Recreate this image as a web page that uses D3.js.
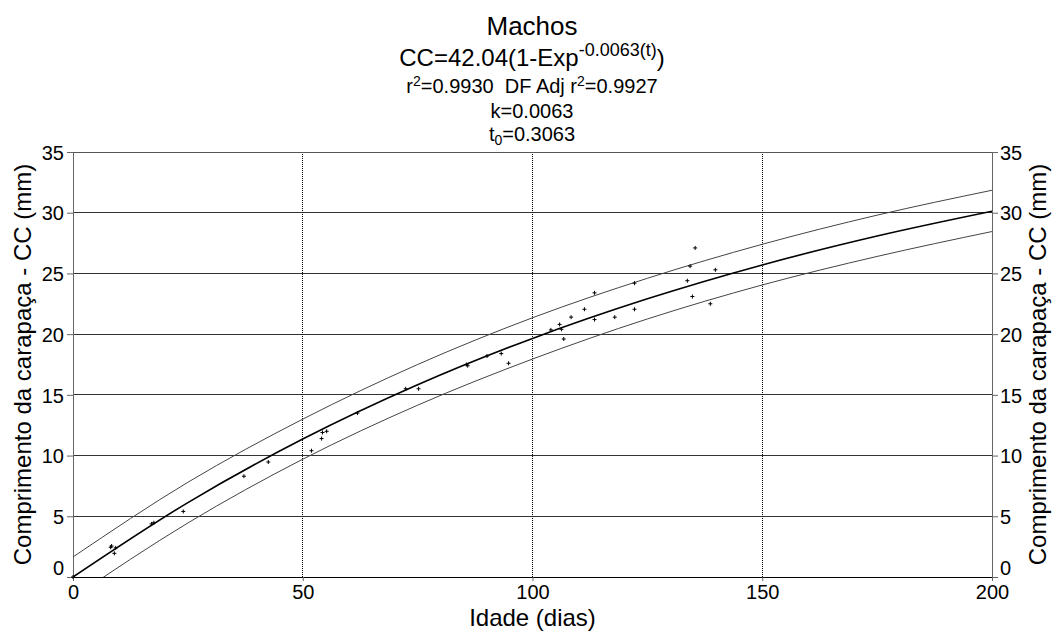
<!DOCTYPE html>
<html>
<head>
<meta charset="utf-8">
<script src="https://cdn.jsdelivr.net/npm/d3@7"></script>
<style>
  body { margin: 0; background: #fff; }
  svg { display: block; font-family: "Liberation Sans", Arial, sans-serif; }
  text { white-space: pre; }
</style>
</head>
<body>
<svg width="1057" height="632"></svg>
<script>
// observed ages (dias) and carapace lengths (mm)
var ages = [0, 8.2, 8.4, 9.3, 9.0, 17.1, 17.6, 24, 37.2, 42.5, 51.9, 54.1, 54.3, 55.2, 61.9,
  72.4, 75.2, 85.6, 85.9, 90.1, 93.2, 94.8, 104, 105.9, 106.3, 106.8, 108.4, 111.3, 113.5,
  113.5, 117.9, 122.2, 122.2, 133.7, 134.3, 135.4, 134.8, 138.7, 139.8]
var lengths = [0, 2.45, 2.55, 2.4, 1.95, 4.37, 4.47, 5.4, 8.3, 9.47, 10.4, 11.4, 11.9, 12.0, 13.5,
  15.5, 15.5, 17.5, 17.4, 18.2, 18.4, 17.6, 20.35, 20.8, 20.4, 19.6, 21.4, 22.05, 23.4,
  21.2, 21.4, 24.2, 22.05, 24.4, 25.6, 27.1, 23.1, 22.5, 25.3]

// fitted curve and prediction band, read at these ages
var curveAges = [0, 25, 50, 75, 100, 125, 150, 175, 200]
var fitted = [0, 6.13, 11.36, 15.83, 19.65, 22.91, 25.70, 28.08, 30.12]
var upper = [1.65, 7.8, 13.0, 17.5, 21.35, 24.6, 27.4, 29.8, 31.85]
var lower = [-1.7, 4.45, 9.7, 14.15, 17.95, 21.25, 24.05, 26.4, 28.45]

var xTicks = [0, 50, 100, 150, 200]
var yTicks = [0, 5, 10, 15, 20, 25, 30, 35]

var svg = d3.select('svg')
var x = d3.scaleLinear().domain([0, 200]).range([73, 992])
var y = d3.scaleLinear().domain([0, 35]).range([577, 152])

svg.append('defs').append('clipPath').attr('id', 'plot')
  .append('rect').attr('x', 73).attr('y', 152).attr('width', 919).attr('height', 425)

// grid
svg.append('g').selectAll('line').data(yTicks.filter(d => d > 0 && d < 35)).enter().append('line')
  .attr('x1', x(0)).attr('x2', x(200))
  .attr('y1', d => y(d)).attr('y2', d => y(d))
  .attr('stroke', '#333').attr('stroke-width', 1).attr('shape-rendering', 'crispEdges')

svg.append('g').selectAll('line').data([50, 100, 150]).enter().append('line')
  .attr('x1', d => x(d)).attr('x2', d => x(d))
  .attr('y1', y(0)).attr('y2', y(35))
  .attr('stroke', '#000').attr('stroke-dasharray', '1,1').attr('shape-rendering', 'crispEdges')

// frame top
svg.append('line').attr('x1', x(0)).attr('x2', x(200)).attr('y1', y(35)).attr('y2', y(35))
  .attr('stroke', '#555').attr('shape-rendering', 'crispEdges')

// axes
var left = svg.append('g').attr('transform', `translate(${x(0)},0)`)
  .call(d3.axisLeft(y).tickValues(yTicks).tickSize(6).tickPadding(3))
var right = svg.append('g').attr('transform', `translate(${x(200)},0)`)
  .call(d3.axisRight(y).tickValues(yTicks).tickSize(6).tickPadding(2))
var bottom = svg.append('g').attr('transform', `translate(0,${y(0)})`)
  .call(d3.axisBottom(x).tickValues(xTicks).tickSize(4).tickPadding(4))

;[left, right, bottom].forEach(g => {
  g.select('.domain').attr('stroke', '#666')
  g.selectAll('.tick line').attr('stroke', '#666')
  g.selectAll('.tick text').attr('font-size', 20).attr('fill', '#000')
    .attr('font-family', '"Liberation Sans", Arial, sans-serif')
})
bottom.select('.domain').attr('stroke', '#000')
left.selectAll('.tick text').attr('dy', d => d === 0 ? '-0.12em' : '0.36em')
right.selectAll('.tick text').attr('dy', d => d === 0 ? '-0.12em' : '0.36em')

// curves
var line = d3.line().x(d => x(d[0])).y(d => y(d[1])).curve(d3.curveMonotoneX)
var plot = svg.append('g').attr('clip-path', 'url(#plot)')
plot.append('path').datum(d3.zip(curveAges, upper)).attr('d', line)
  .attr('fill', 'none').attr('stroke', '#444').attr('stroke-width', 1)
plot.append('path').datum(d3.zip(curveAges, lower)).attr('d', line)
  .attr('fill', 'none').attr('stroke', '#444').attr('stroke-width', 1)
plot.append('path').datum(d3.zip(curveAges, fitted)).attr('d', line)
  .attr('fill', 'none').attr('stroke', '#000').attr('stroke-width', 1.6)

// observations
svg.append('g').selectAll('path').data(d3.zip(ages, lengths)).enter().append('path')
  .attr('transform', d => `translate(${x(d[0])},${y(d[1])})`)
  .attr('d', 'M-2,0H2M0,-2V2')
  .attr('stroke', '#000').attr('stroke-width', 1)

// titles
var cx = 532
svg.append('text').attr('x', cx).attr('y', 35).attr('text-anchor', 'middle')
  .attr('font-size', 26).text('Machos')

var eq = svg.append('text').attr('x', cx).attr('y', 66).attr('text-anchor', 'middle').attr('font-size', 24)
eq.append('tspan').text('CC=42.04(1-Exp')
eq.append('tspan').attr('dy', -10).attr('font-size', 18).text('-0.0063(t)')
eq.append('tspan').attr('dy', 10).text(')')

var r2 = svg.append('text').attr('x', cx).attr('y', 93).attr('text-anchor', 'middle').attr('font-size', 20)
r2.append('tspan').text('r')
r2.append('tspan').attr('dy', -7).attr('font-size', 14).text('2')
r2.append('tspan').attr('dy', 7).text('=0.9930  DF Adj r')
r2.append('tspan').attr('dy', -7).attr('font-size', 14).text('2')
r2.append('tspan').attr('dy', 7).text('=0.9927')

svg.append('text').attr('x', cx).attr('y', 118).attr('text-anchor', 'middle')
  .attr('font-size', 20).text('k=0.0063')

var t0 = svg.append('text').attr('x', cx).attr('y', 141).attr('text-anchor', 'middle').attr('font-size', 20)
t0.append('tspan').text('t')
t0.append('tspan').attr('dy', 4).attr('font-size', 14).text('0')
t0.append('tspan').attr('dy', -4).text('=0.3063')

// axis titles
svg.append('text').attr('x', x(100)).attr('y', 626).attr('text-anchor', 'middle')
  .attr('font-size', 24).text('Idade (dias)')
svg.append('text').attr('transform', `translate(31,${y(17.5)}) rotate(-90)`)
  .attr('text-anchor', 'middle').attr('font-size', 24).text('Comprimento da carapaça - CC (mm)')
svg.append('text').attr('transform', `translate(1046,${y(17.5)}) rotate(-90)`)
  .attr('text-anchor', 'middle').attr('font-size', 24).text('Comprimento da carapaça - CC (mm)')
</script>
</body>
</html>
